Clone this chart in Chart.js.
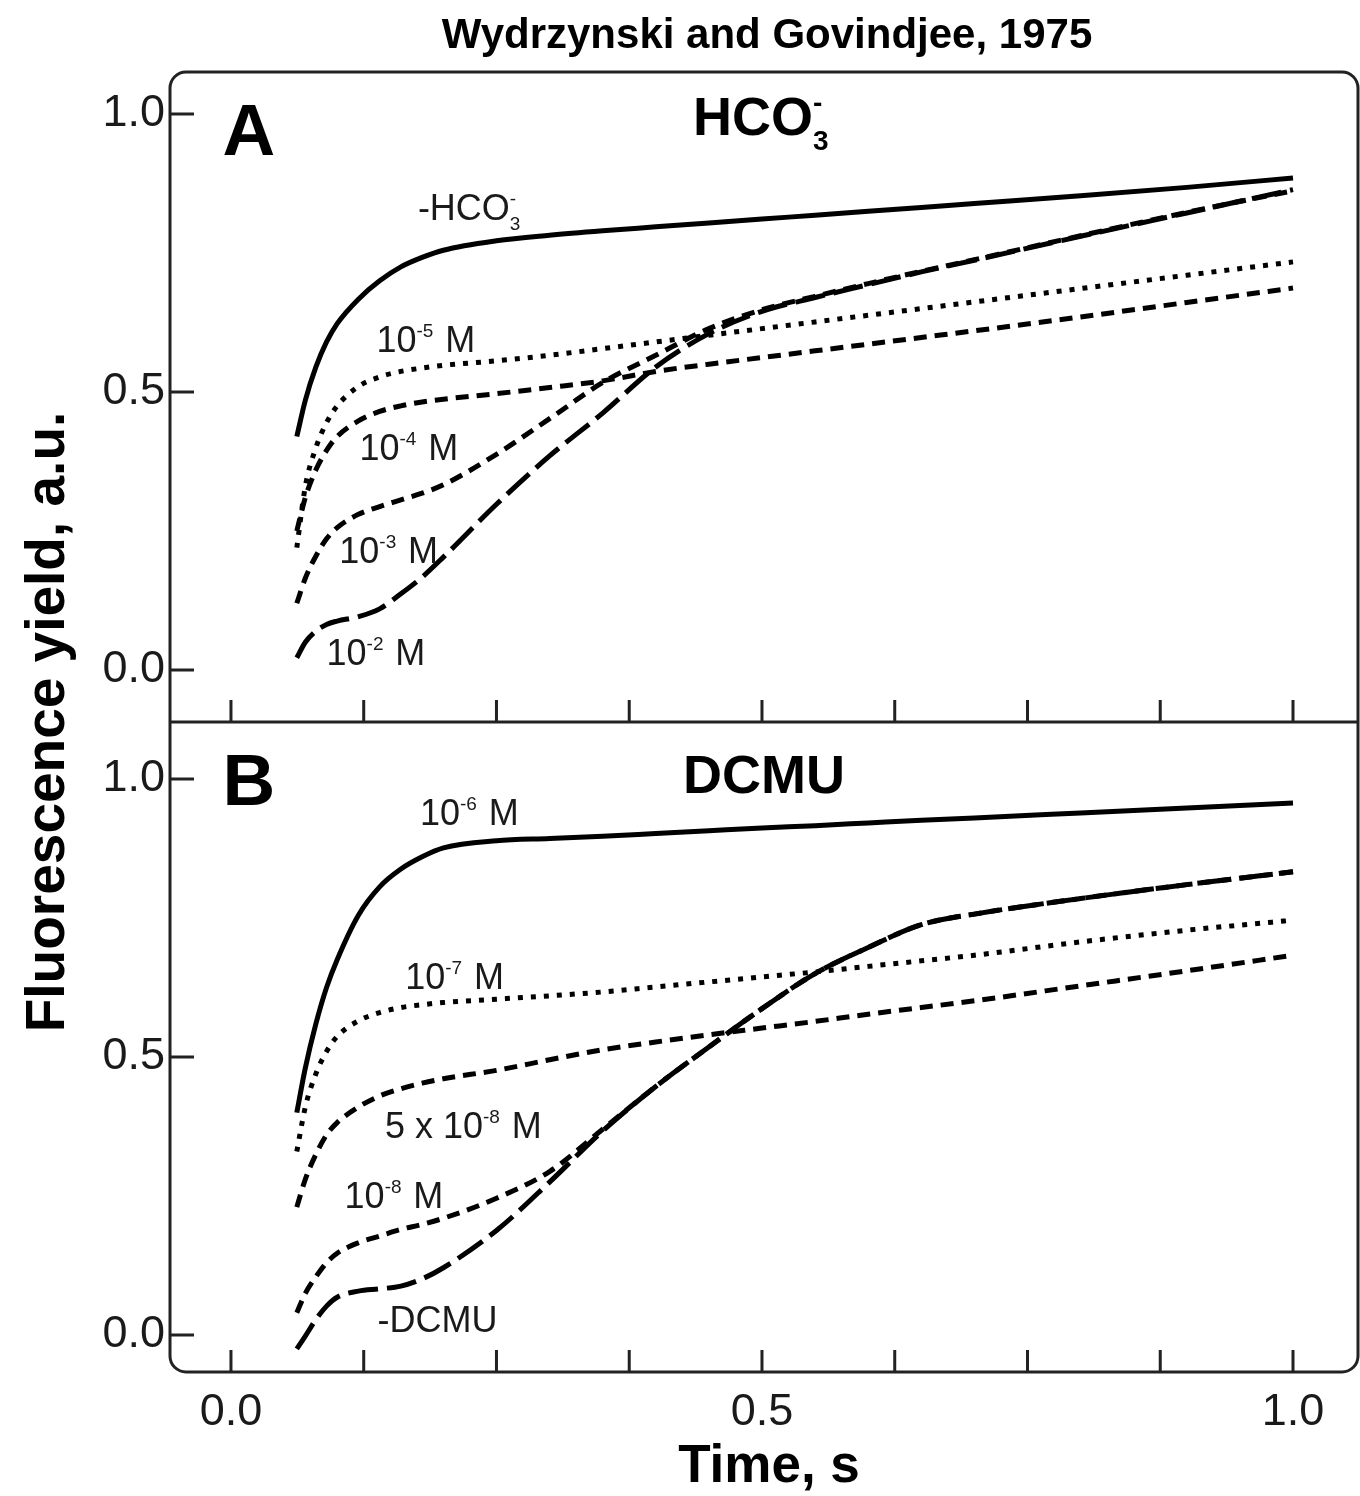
<!DOCTYPE html>
<html>
<head>
<meta charset="utf-8">
<script src="https://cdn.jsdelivr.net/npm/chart.js@4.4.0/dist/chart.umd.min.js"></script>
<style>
  html, body { margin: 0; padding: 0; background: #fff; }
  #wrap { width: 1360px; height: 1496px; }
</style>
</head>
<body>
<div id="wrap"><canvas id="chart" width="1360" height="1496"></canvas></div>
<script>
// time axis shared by all traces (s)
const times = [0.062, 0.07, 0.08, 0.09, 0.10, 0.12, 0.14, 0.16, 0.18, 0.20, 0.25, 0.30,
               0.35, 0.40, 0.45, 0.50, 0.55, 0.60, 0.65, 0.70, 0.80, 0.90, 1.00]

// panel A: bicarbonate series
const noHCO3 = [0.42, 0.485, 0.545, 0.59, 0.623, 0.667, 0.70, 0.725, 0.742, 0.755, 0.772, 0.782,
                0.79, 0.797, 0.804, 0.811, 0.818, 0.825, 0.832, 0.839, 0.853, 0.868, 0.885]
const hco3_1e5 = [0.22, 0.33, 0.40, 0.445, 0.475, 0.51, 0.527, 0.537, 0.543, 0.548, 0.556, 0.566,
                  0.578, 0.59, 0.602, 0.614, 0.626, 0.638, 0.65, 0.662, 0.686, 0.71, 0.734]
const hco3_1e4 = [0.25, 0.31, 0.36, 0.395, 0.42, 0.448, 0.465, 0.475, 0.482, 0.487, 0.497, 0.508,
                  0.52, 0.537, 0.55, 0.562, 0.574, 0.586, 0.598, 0.61, 0.635, 0.661, 0.687]
const hco3_1e3 = [0.12, 0.165, 0.205, 0.236, 0.256, 0.28, 0.294, 0.306, 0.318, 0.333, 0.388, 0.452,
                  0.517, 0.566, 0.614, 0.648, 0.672, 0.695, 0.717, 0.738, 0.781, 0.823, 0.862]
const hco3_1e2 = [0.022, 0.05, 0.07, 0.082, 0.088, 0.096, 0.11, 0.137, 0.167, 0.203, 0.298, 0.385,
                  0.462, 0.545, 0.605, 0.645, 0.67, 0.693, 0.716, 0.737, 0.78, 0.822, 0.864]

// panel B: DCMU series
const dcmu_1e6 = [0.40, 0.48, 0.56, 0.625, 0.675, 0.755, 0.806, 0.838, 0.86, 0.876, 0.889, 0.893,
                  0.897, 0.902, 0.907, 0.912, 0.916, 0.921, 0.926, 0.93, 0.939, 0.948, 0.957]
const dcmu_1e7 = [0.33, 0.41, 0.47, 0.51, 0.537, 0.565, 0.58, 0.589, 0.594, 0.598, 0.604, 0.61,
                  0.617, 0.626, 0.635, 0.644, 0.653, 0.663, 0.673, 0.683, 0.707, 0.728, 0.746]
const dcmu_5e8 = [0.23, 0.28, 0.325, 0.36, 0.382, 0.41, 0.43, 0.443, 0.453, 0.461, 0.476, 0.495,
                  0.513, 0.527, 0.54, 0.552, 0.564, 0.577, 0.589, 0.601, 0.628, 0.655, 0.683]
const dcmu_1e8 = [0.04, 0.075, 0.105, 0.13, 0.147, 0.166, 0.178, 0.19, 0.199, 0.21, 0.246, 0.294,
                  0.37, 0.447, 0.518, 0.587, 0.65, 0.697, 0.738, 0.757, 0.785, 0.81, 0.833]
const noDCMU = [-0.025, -0.002, 0.028, 0.052, 0.068, 0.079, 0.083, 0.088, 0.101, 0.121, 0.188, 0.275,
                0.367, 0.447, 0.518, 0.587, 0.65, 0.697, 0.738, 0.757, 0.785, 0.81, 0.833]

const xTicks = [0, 0.125, 0.25, 0.375, 0.5, 0.625, 0.75, 0.875, 1.0]
const yTicks = [0, 0.5, 1.0]

const FONT = '"Liberation Sans", Arial, Helvetica, sans-serif'
const INK = '#1a1a1a'

const SOLID = []
const DOTS = [5, 8]
const SHORT = [13, 8]
const LONG = [30, 9]

const series = (vals, axis, dash) => ({
  data: times.map((t, i) => ({ x: t, y: vals[i] })),
  yAxisID: axis,
  borderColor: '#000',
  borderWidth: 5,
  borderDash: dash,
  borderCapStyle: 'butt',
  pointRadius: 0,
  cubicInterpolationMode: 'monotone',
  fill: false
})

// text labels, anchored in data units: [axis, time, value, parts, size, weight]
const notes = [
  ['yA', -0.008, 0.926, [{ t: 'A' }], 73, 'bold'],
  ['yA', 0.435, 0.962, [{ t: 'HCO' }, { sub: '3', sup: '-' }], 54, 'bold'],
  ['yA', 0.176, 0.809, [{ t: '-HCO' }, { sub: '3', sup: '-' }], 36, 'normal'],
  ['yA', 0.137, 0.572, [{ t: '10' }, { sup: '-5' }, { t: ' M' }], 36, 'normal'],
  ['yA', 0.121, 0.378, [{ t: '10' }, { sup: '-4' }, { t: ' M' }], 36, 'normal'],
  ['yA', 0.102, 0.192, [{ t: '10' }, { sup: '-3' }, { t: ' M' }], 36, 'normal'],
  ['yA', 0.090, 0.009, [{ t: '10' }, { sup: '-2' }, { t: ' M' }], 36, 'normal'],
  ['yB', -0.008, 0.953, [{ t: 'B' }], 73, 'bold'],
  ['yB', 0.4256, 0.975, [{ t: 'DCMU' }], 54, 'bold'],
  ['yB', 0.178, 0.917, [{ t: '10' }, { sup: '-6' }, { t: ' M' }], 36, 'normal'],
  ['yB', 0.164, 0.622, [{ t: '10' }, { sup: '-7' }, { t: ' M' }], 36, 'normal'],
  ['yB', 0.145, 0.354, [{ t: '5 x 10' }, { sup: '-8' }, { t: ' M' }], 36, 'normal'],
  ['yB', 0.107, 0.228, [{ t: '10' }, { sup: '-8' }, { t: ' M' }], 36, 'normal'],
  ['yB', 0.138, 0.005, [{ t: '-DCMU' }], 36, 'normal']
]

function drawParts(ctx, x, y, parts, size, weight) {
  let cx = x
  for (const p of parts) {
    if (p.t) {
      ctx.font = `${weight} ${size}px ${FONT}`
      ctx.fillText(p.t, cx, y)
      cx += ctx.measureText(p.t).width
    } else {
      const s = Math.round(size * 0.52)
      ctx.font = `${weight} ${s}px ${FONT}`
      let w = 0
      if (p.sub) {
        ctx.fillText(p.sub, cx, y + size * 0.28)
        w = Math.max(w, ctx.measureText(p.sub).width)
      }
      if (p.sup) {
        ctx.fillText(p.sup, cx, y - size * 0.42)
        w = Math.max(w, ctx.measureText(p.sup).width)
      }
      cx += w + size * 0.05
    }
  }
}

const framePlugin = {
  id: 'frame',
  afterDraw(chart) {
    const { ctx, chartArea: a, scales } = chart
    const x = scales.x, yA = scales.yA, yB = scales.yB
    ctx.save()
    ctx.strokeStyle = '#222'
    ctx.lineWidth = 3
    // rounded outer box
    ctx.beginPath()
    ctx.roundRect(a.left, a.top, a.right - a.left, a.bottom - a.top, 16)
    ctx.stroke()
    // divider between panels
    ctx.beginPath()
    ctx.moveTo(a.left, yA.bottom)
    ctx.lineTo(a.right, yA.bottom)
    ctx.stroke()
    // inward ticks
    ctx.beginPath()
    for (const s of [yA, yB]) {
      for (const tk of s.ticks) {
        const py = s.getPixelForValue(tk.value)
        ctx.moveTo(a.left, py)
        ctx.lineTo(a.left + 24, py)
      }
      for (const tk of x.ticks) {
        const px = x.getPixelForValue(tk.value)
        ctx.moveTo(px, s.bottom)
        ctx.lineTo(px, s.bottom - 22)
      }
    }
    ctx.stroke()

    ctx.textBaseline = 'alphabetic'
    ctx.textAlign = 'left'
    for (const [axis, t, v, parts, size, weight] of notes) {
      const s = scales[axis]
      ctx.fillStyle = weight === 'bold' ? '#000' : INK
      drawParts(ctx, x.getPixelForValue(t), s.getPixelForValue(v), parts, size, weight)
    }

    // titles
    ctx.fillStyle = '#000'
    ctx.textAlign = 'center'
    ctx.font = `bold 42px ${FONT}`
    ctx.fillText('Wydrzynski and Govindjee, 1975', 767, 48)
    ctx.font = `bold 53px ${FONT}`
    ctx.fillText('Time, s', 769, 1482)
    ctx.font = `bold 55px ${FONT}`
    ctx.translate(64, yA.bottom)
    ctx.rotate(-Math.PI / 2)
    ctx.fillText('Fluorescence yield, a.u.', 0, 0)
    ctx.restore()
  }
}

const yScale = (min, max, weight) => ({
  type: 'linear',
  position: 'left',
  stack: 'panels',
  stackWeight: 1,
  weight: weight,
  min: min,
  max: max,
  afterBuildTicks: s => { s.ticks = yTicks.map(v => ({ value: v })) },
  afterFit: s => { s.width = 170 },
  ticks: {
    callback: v => v.toFixed(1),
    font: { family: FONT, size: 45 },
    color: INK,
    padding: 5
  },
  grid: { display: false, drawTicks: false },
  border: { display: false }
})

new Chart(document.getElementById('chart'), {
  type: 'line',
  data: {
    datasets: [
      series(noHCO3, 'yA', SOLID),
      series(hco3_1e5, 'yA', DOTS),
      series(hco3_1e4, 'yA', SHORT),
      series(hco3_1e3, 'yA', SHORT),
      series(hco3_1e2, 'yA', LONG),
      series(dcmu_1e6, 'yB', SOLID),
      series(dcmu_1e7, 'yB', DOTS),
      series(dcmu_5e8, 'yB', SHORT),
      series(dcmu_1e8, 'yB', SHORT),
      series(noDCMU, 'yB', LONG)
    ]
  },
  options: {
    responsive: false,
    animation: false,
    layout: { padding: { top: 72, right: 2, bottom: 0, left: 0 } },
    plugins: { legend: { display: false }, tooltip: { enabled: false } },
    scales: {
      x: {
        type: 'linear',
        min: -0.0574,
        max: 1.0612,
        afterBuildTicks: s => { s.ticks = xTicks.map(v => ({ value: v })) },
        afterFit: s => { s.height = 124 },
        ticks: {
          callback: v => (v * 2) % 1 === 0 ? v.toFixed(1) : '',
          font: { family: FONT, size: 45 },
          color: INK,
          padding: 14,
          maxRotation: 0,
          autoSkip: false
        },
        grid: { display: false, drawTicks: false },
        border: { display: false }
      },
      yA: yScale(-0.0935, 1.0755, 2),
      yB: yScale(-0.0665, 1.1025, 1)
    }
  },
  plugins: [framePlugin]
})
</script>
</body>
</html>
